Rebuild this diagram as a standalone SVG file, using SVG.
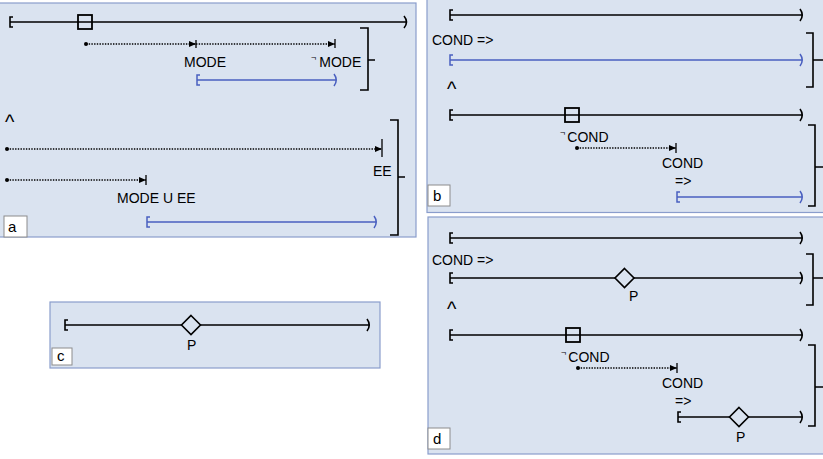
<svg xmlns="http://www.w3.org/2000/svg" width="823" height="459" viewBox="0 0 823 459">
<defs>
<style>
.panel{fill:#dae3f0;stroke:#8a9dcc;stroke-width:1.2}
.lbl{fill:#ffffff;stroke:#8c8c8c;stroke-width:1}
.ln{fill:none;stroke:#000;stroke-width:1.6}
.bl{fill:none;stroke:#4a60c0;stroke-width:1.5}
.br{fill:none;stroke:#000;stroke-width:1.6}
.dot{fill:none;stroke:#000;stroke-width:1.5;stroke-dasharray:1.4 1.3}
.tick{fill:none;stroke:#000;stroke-width:1.3}
.sq{fill:none;stroke:#000;stroke-width:1.8}
.dm{fill:#dae3f0;stroke:#000;stroke-width:1.6}
text{font-family:"Liberation Sans",Arial,sans-serif;font-size:14px;fill:#000}
.t14{font-size:15px}
.car{font-size:20px}
.neg{font-size:9px}
</style>
<marker id="ah" markerUnits="userSpaceOnUse" markerWidth="8" markerHeight="6" refX="7" refY="3" orient="auto">
<path d="M0,0 L7,3 L0,6 Z" fill="#000"/>
</marker>
</defs>

<!-- Panel a -->
<g id="panel-a">
<rect class="panel" x="-1" y="3" width="417" height="234"/>
<path class="ln" d="M13,17 H10 V27 H13 M10,22 H406 M404,16 Q409,22 404,28"/>
<rect class="sq" x="78" y="15" width="14" height="14"/>
<text x="184" y="67">MODE</text>
<text x="311" y="67"><tspan class="neg" dy="-6">¬</tspan><tspan dy="6" dx="3">MODE</tspan></text>
<path class="bl" d="M200,75 H197 V85 H200 M197,80 H336 M334,74 Q338.5,80 334,86"/>
<path class="br" d="M360,28 H368 V90 H360 M368,60 H375"/>
<text class="car" x="5" y="129">^</text>
<text x="373" y="176">EE</text>
<text x="117" y="203">MODE U EE</text>
<path class="bl" d="M150,217 H147 V227 H150 M147,222 H376 M374,216 Q378.5,222 374,228"/>
<path class="br" d="M390,120 H398 V235 H390 M398,177 H405"/>
<rect class="lbl" x="4" y="216" width="23" height="21"/>
<text class="t14" x="8" y="232">a</text>
</g>

<!-- Panel b -->
<g id="panel-b">
<rect class="panel" x="427" y="-1" width="397" height="213.5"/>
<path class="ln" d="M453,10 H450 V20 H453 M450,15 H802 M800,9 Q804.5,15 800,21"/>
<text x="432" y="45">COND =&gt;</text>
<path class="bl" d="M453,55 H450 V65 H453 M450,60 H802 M800,54 Q804.5,60 800,66"/>
<path class="br" d="M806,33 H813 V87 H806 M813,60 H823"/>
<text class="car" x="447" y="96">^</text>
<path class="ln" d="M453,110 H450 V120 H453 M450,115 H802 M800,109 Q804.5,115 800,121"/>
<rect class="sq" x="565" y="108" width="14" height="14"/>
<text x="560" y="142"><tspan class="neg" dy="-6">¬</tspan><tspan dy="6" dx="2">COND</tspan></text>
<text x="662" y="168">COND</text>
<text x="675" y="186">=&gt;</text>
<path class="bl" d="M680,192 H677 V202 H680 M677,197 H802 M800,191 Q804.5,197 800,203"/>
<path class="br" d="M808,125 H815 V206 H808 M815,167 H823"/>
<rect class="lbl" x="428" y="185" width="22" height="21"/>
<text class="t14" x="433" y="201">b</text>
</g>

<!-- Panel c -->
<g id="panel-c">
<rect class="panel" x="50" y="302" width="330" height="66"/>
<path class="ln" d="M68,320 H65 V330 H68 M65,325 H369 M367,319 Q371.5,325 367,331"/>
<path class="dm" d="M191,315.5 L200.5,325 L191,334.5 L181.5,325 Z"/>
<text x="187" y="350">P</text>
<rect class="lbl" x="52" y="348" width="20" height="17"/>
<text class="t14" x="57" y="361">c</text>
</g>

<!-- Panel d -->
<g id="panel-d">
<rect class="panel" x="428" y="217" width="396" height="237"/>
<path class="ln" d="M453,233 H450 V243 H453 M450,238 H802 M800,232 Q804.5,238 800,244"/>
<text x="432" y="265">COND =&gt;</text>
<path class="ln" d="M453,273 H450 V283 H453 M450,278 H802 M800,272 Q804.5,278 800,284"/>
<path class="dm" d="M624.5,268.5 L634,278 L624.5,287.5 L615,278 Z"/>
<text x="629" y="301">P</text>
<path class="br" d="M806,254 H813 V305 H806 M813,278 H823"/>
<text class="car" x="447" y="316">^</text>
<path class="ln" d="M453,330 H450 V340 H453 M450,335 H802 M800,329 Q804.5,335 800,341"/>
<rect class="sq" x="566" y="328" width="14" height="14"/>
<text x="561" y="362"><tspan class="neg" dy="-6">¬</tspan><tspan dy="6" dx="2">COND</tspan></text>
<text x="662" y="388">COND</text>
<text x="675" y="406">=&gt;</text>
<path class="ln" d="M681,412 H678 V422 H681 M678,417 H802 M800,411 Q804.5,417 800,423"/>
<path class="dm" d="M739,407.5 L748.5,417 L739,426.5 L729.5,417 Z"/>
<text x="736" y="442">P</text>
<path class="br" d="M808,345 H815 V426 H808 M815,387 H823"/>
<rect class="lbl" x="428" y="428" width="22" height="21"/>
<text class="t14" x="433" y="444">d</text>
</g>

<!-- Connectors (dotted arrows) -->
<g id="connectors">
<circle cx="86" cy="44" r="2"/>
<path class="dot" d="M86,44 H196" marker-end="url(#ah)"/>
<path class="tick" d="M196,40 V48"/>
<path class="dot" d="M196,44 H335" marker-end="url(#ah)"/>
<path class="tick" d="M335,39 V48"/>
<circle cx="7" cy="149" r="2"/>
<path class="dot" d="M7,149 H382" marker-end="url(#ah)"/>
<path class="tick" d="M382,139 V157"/>
<circle cx="7" cy="180" r="2"/>
<path class="dot" d="M7,180 H146" marker-end="url(#ah)"/>
<path class="tick" d="M146,175 V185"/>
<circle cx="577" cy="148" r="2"/>
<path class="dot" d="M577,148 H676" marker-end="url(#ah)"/>
<path class="tick" d="M676,143 V153"/>
<circle cx="578" cy="368" r="2"/>
<path class="dot" d="M578,368 H677" marker-end="url(#ah)"/>
<path class="tick" d="M677,363 V373"/>
</g>
</svg>
